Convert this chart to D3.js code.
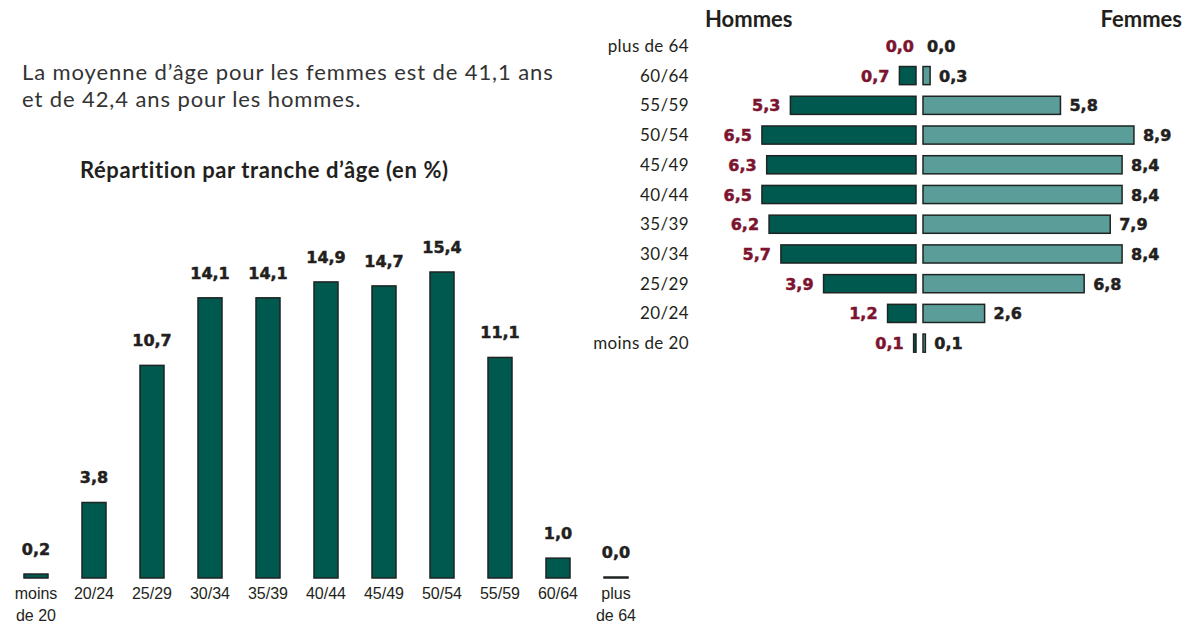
<!DOCTYPE html>
<html>
<head>
<meta charset="utf-8">
<script src="https://cdnjs.cloudflare.com/ajax/libs/d3/7.8.5/d3.min.js"></script>
<style>
  body { margin: 0; background: #fff; }
  svg { display: block; }
</style>
</head>
<body>
<div class="chart"></div>
<script>
// tranches d'âge, histogramme (ensemble)
var ageCats = ["moins de 20", "20/24", "25/29", "30/34", "35/39", "40/44", "45/49", "50/54", "55/59", "60/64", "plus de 64"];
var ageTotal = [0.2, 3.8, 10.7, 14.1, 14.1, 14.9, 14.7, 15.4, 11.1, 1.0, 0.0];

// pyramide, du haut vers le bas
var pyrCats = ["plus de 64", "60/64", "55/59", "50/54", "45/49", "40/44", "35/39", "30/34", "25/29", "20/24", "moins de 20"];
var hommes = [0.0, 0.7, 5.3, 6.5, 6.3, 6.5, 6.2, 5.7, 3.9, 1.2, 0.1];
var femmes = [0.0, 0.3, 5.8, 8.9, 8.4, 8.4, 7.9, 8.4, 6.8, 2.6, 0.1];

var fmt = function(v){ return d3.format(".1f")(v).replace(".", ",") }

var width = 1192,
    height = 625;

var svg = d3.select(".chart").append("svg")
    .attr("width", width)
    .attr("height", height);

var dark = "#00594f",
    light = "#5b9d99",
    edge = "#1e2422",
    wine = "#7c1430",
    ink = "#231f20";

// style des valeurs (gras type Futura)
function valStyle(sel, col){
  sel.style("font-family", "'DejaVu Sans', sans-serif")
    .style("font-weight", "bold")
    .style("font-size", "16px")
    .style("fill", col)
    .style("stroke", col)
    .style("stroke-width", 0.5)
}

// texte d'intro
var intro = svg.append("text")
    .style("font-family", "Lato, sans-serif")
    .style("font-size", "22px")
    .style("letter-spacing", "0.9px")
    .style("fill", "#333");
intro.append("tspan").attr("x", 22).attr("y", 80)
    .text("La moyenne d’âge pour les femmes est de 41,1 ans");
intro.append("tspan").attr("x", 22).attr("y", 107)
    .text("et de 42,4 ans pour les hommes.");

svg.append("text")
    .attr("x", 80)
    .attr("y", 178)
    .style("font-family", "Lato, sans-serif")
    .style("font-weight", "bold")
    .style("font-size", "22px")
    .style("letter-spacing", "0.6px")
    .style("fill", ink)
    .text("Répartition par tranche d’âge (en %)");

// ---- histogramme
var x = d3.scaleBand()
    .domain(ageCats)
    .range([7, 645])
    .paddingInner(0.586)
    .paddingOuter(0.293);

var y = d3.scaleLinear()
    .domain([0, 15.4])
    .range([578, 272]);

var bars = svg.append("g").attr("class", "bars");

bars.selectAll("rect")
    .data(ageTotal)
  .enter().append("rect")
    .attr("x", function(d, i){ return x(ageCats[i]) })
    .attr("width", x.bandwidth())
    .attr("y", function(d){ return Math.min(y(d), y(0) - 1) })
    .attr("height", function(d){ return Math.max(y(0) - y(d), 1) })
    .style("fill", dark)
    .style("stroke", edge)
    .style("stroke-width", 1.5);

bars.selectAll("text.val")
    .data(ageTotal)
  .enter().append("text")
    .attr("class", "val")
    .attr("x", function(d, i){ return x(ageCats[i]) + x.bandwidth() / 2 })
    .attr("y", function(d){ return Math.min(y(d), y(0) - 1) - 19 })
    .attr("text-anchor", "middle")
    .call(valStyle, ink)
    .text(fmt);

// libellés sous les barres
var xlab = bars.selectAll("text.cat")
    .data(ageCats)
  .enter().append("text")
    .attr("class", "cat")
    .attr("text-anchor", "middle")
    .style("font-family", "'Liberation Sans', Arial, sans-serif")
    .style("font-size", "16px")
    .style("fill", ink);

xlab.each(function(c){
  var cx = x(c) + x.bandwidth() / 2
  var lines = c.split(" ")
  if (lines.length > 2) lines = [lines[0], lines.slice(1).join(" ")]
  var t = d3.select(this)
  lines.forEach(function(l, k){
    t.append("tspan").attr("x", cx).attr("y", 599 + k * 22).text(l)
  })
})

// ---- pyramide
var row = d3.scaleBand()
    .domain(pyrCats)
    .range([31, 358])
    .paddingInner(0.39)
    .paddingOuter(0.195);

var mid = 919.5,
    gap = 3.5;

var len = d3.scaleLinear()
    .domain([0, 1])
    .range([0, 23.7]);

var pyr = svg.append("g").attr("class", "pyramid");

pyr.append("text")
    .attr("x", 705)
    .attr("y", 27)
    .style("font-family", "Lato, sans-serif")
    .style("font-weight", "bold")
    .style("font-size", "22px")
    .style("fill", ink)
    .text("Hommes");

pyr.append("text")
    .attr("x", 1182)
    .attr("y", 27)
    .attr("text-anchor", "end")
    .style("font-family", "Lato, sans-serif")
    .style("font-weight", "bold")
    .style("font-size", "22px")
    .style("fill", ink)
    .text("Femmes");

pyr.selectAll("text.cat")
    .data(pyrCats)
  .enter().append("text")
    .attr("class", "cat")
    .attr("x", 689)
    .attr("y", function(d){ return row(d) + row.bandwidth() / 2 + 6 })
    .attr("text-anchor", "end")
    .style("font-family", "Lato, sans-serif")
    .style("font-size", "17px")
    .style("letter-spacing", "0.4px")
    .style("fill", ink)
    .text(function(d){ return d });

hommes.forEach(function(d, i){
  if (d <= 0) return
  pyr.append("rect")
      .attr("class", "h")
      .attr("x", mid - gap - len(d))
      .attr("width", len(d))
      .attr("y", row(pyrCats[i]))
      .attr("height", row.bandwidth())
      .style("fill", dark)
      .style("stroke", edge)
      .style("stroke-width", 1.5);
});

femmes.forEach(function(d, i){
  if (d <= 0) return
  pyr.append("rect")
      .attr("class", "f")
      .attr("x", mid + gap)
      .attr("width", len(d))
      .attr("y", row(pyrCats[i]))
      .attr("height", row.bandwidth())
      .style("fill", light)
      .style("stroke", edge)
      .style("stroke-width", 1.5);
});

pyr.selectAll("text.vh")
    .data(hommes)
  .enter().append("text")
    .attr("class", "vh")
    .attr("x", function(d){ return mid - gap - len(d) - (d > 0 ? 10 : 2) })
    .attr("y", function(d, i){ return row(pyrCats[i]) + row.bandwidth() / 2 + 6 })
    .attr("text-anchor", "end")
    .call(valStyle, wine)
    .text(fmt);

pyr.selectAll("text.vf")
    .data(femmes)
  .enter().append("text")
    .attr("class", "vf")
    .attr("x", function(d){ return mid + gap + len(d) + (d > 0 ? 9 : 4) })
    .attr("y", function(d, i){ return row(pyrCats[i]) + row.bandwidth() / 2 + 6 })
    .call(valStyle, ink)
    .text(fmt);
</script>
</body>
</html>
